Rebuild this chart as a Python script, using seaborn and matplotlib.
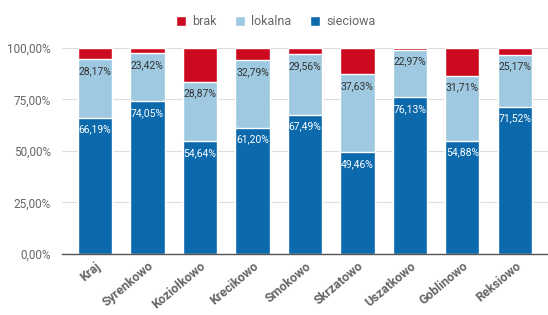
import pandas as pd
import matplotlib.pyplot as plt
import matplotlib.ticker as mticker
import seaborn as sns

# Data
miejsca = ['Kraj', 'Syrenkowo', 'Koziołkowo', 'Krecikowo', 'Smokowo',
           'Skrzatowo', 'Uszatkowo', 'Goblinowo', 'Reksiowo']
sieciowa = [66.19, 74.05, 54.64, 61.20, 67.49, 49.46, 76.13, 54.88, 71.52]
lokalna = [28.17, 23.42, 28.87, 32.79, 29.56, 37.63, 22.97, 31.71, 25.17]
brak = [5.64, 2.53, 16.49, 6.01, 2.95, 12.91, 0.90, 13.41, 3.31]

df = pd.DataFrame({'miejsce': miejsca, 'sieciowa': sieciowa,
                   'lokalna': lokalna, 'brak': brak})
df['sl'] = df['sieciowa'] + df['lokalna']
df['total'] = df['sl'] + df['brak']

c_brak = '#cc0a1f'
c_lok = '#9fc9e0'
c_sie = '#0b69ac'
grey = '#666666'

sns.set_style('white')
plt.rcParams['font.family'] = ['Roboto', 'DejaVu Sans']

fig = plt.figure(figsize=(5.48, 3.15), dpi=100)
ax = fig.add_axes([0.113, 0.194, 0.887, 0.654])

# stacked bars drawn as overlapping cumulative totals
sns.barplot(data=df, x='miejsce', y='total', color=c_brak, width=0.65,
            saturation=1, ax=ax, label='brak', zorder=2)
sns.barplot(data=df, x='miejsce', y='sl', color=c_lok, width=0.65,
            saturation=1, ax=ax, label='lokalna', zorder=2)
sns.barplot(data=df, x='miejsce', y='sieciowa', color=c_sie, width=0.65,
            saturation=1, ax=ax, label='sieciowa', zorder=2)

def fmt(v):
    return f'{v:.2f}%'.replace('.', ',')

for i, row in df.iterrows():
    ax.text(i, row['sieciowa'] - 3.3, fmt(row['sieciowa']), ha='center',
            va='top', color='white', fontsize=7.5, zorder=3)
    ax.text(i, row['sl'] - 3.3, fmt(row['lokalna']), ha='center',
            va='top', color='#333333', fontsize=7.5, zorder=3)

ax.set_ylim(0, 100)
ax.set_xlim(-0.63, 8.63)
ax.set_yticks([0, 25, 50, 75, 100])
ax.yaxis.set_major_formatter(mticker.FuncFormatter(lambda v, p: fmt(v)))
ax.grid(axis='y', color='#dddddd', linewidth=0.8, zorder=0)
ax.set_axisbelow(True)
for s in ['top', 'right', 'left']:
    ax.spines[s].set_visible(False)
ax.spines['bottom'].set_color('#555555')
ax.spines['bottom'].set_linewidth(1.0)
ax.set_xlabel('')
ax.set_ylabel('')
ax.tick_params(axis='y', length=0, pad=8, labelsize=8.5, labelcolor=grey)
ax.tick_params(axis='x', length=0, pad=4, labelsize=9, labelcolor=grey)
for lab in ax.get_xticklabels():
    lab.set_rotation(40)
    lab.set_ha('right')
    lab.set_rotation_mode('anchor')
    lab.set_fontweight('bold')

ax.legend(loc='lower center', bbox_to_anchor=(0.44, 1.04), ncol=3,
          frameon=False, fontsize=9, handlelength=0.8, handleheight=0.8,
          handletextpad=0.5, columnspacing=1.5, labelcolor=grey)

fig.savefig('out.png', dpi=100)
